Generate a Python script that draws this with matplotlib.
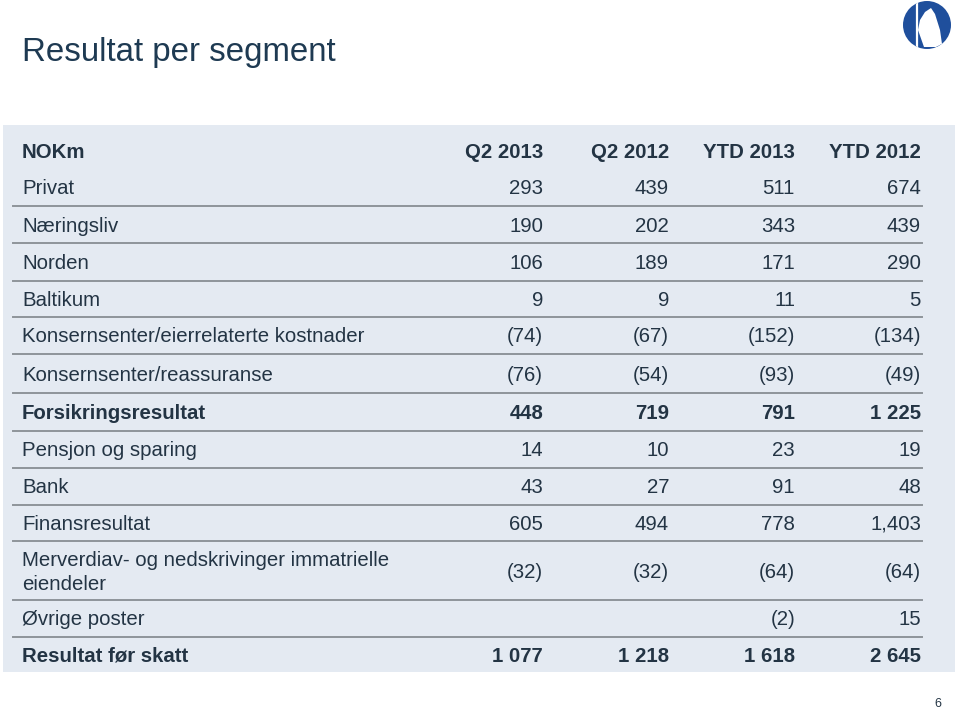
import matplotlib.pyplot as plt
from matplotlib.patches import Rectangle, Circle, Polygon

# table content
columns = ['Q2 2013', 'Q2 2012', 'YTD 2013', 'YTD 2012']
labels = ['Privat', 'Næringsliv', 'Norden', 'Baltikum',
          'Konsernsenter/eierrelaterte kostnader', 'Konsernsenter/reassuranse',
          'Forsikringsresultat', 'Pensjon og sparing', 'Bank', 'Finansresultat',
          'Merverdiav- og nedskrivinger immatrielle\neiendeler',
          'Øvrige poster', 'Resultat før skatt']
q2_2013 = ['293', '190', '106', '9', '(74)', '(76)', '448', '14', '43', '605', '(32)', '', '1 077']
q2_2012 = ['439', '202', '189', '9', '(67)', '(54)', '719', '10', '27', '494', '(32)', '', '1 218']
ytd_2013 = ['511', '343', '171', '11', '(152)', '(93)', '791', '23', '91', '778', '(64)', '(2)', '1 618']
ytd_2012 = ['674', '439', '290', '5', '(134)', '(49)', '1 225', '19', '48', '1,403', '(64)', '15', '2 645']
bold_rows = ['Forsikringsresultat', 'Resultat før skatt']

# layout (pixels)
W, H = 959, 713
row_y = [187, 225, 262, 299, 335, 374, 412, 449, 486, 523, 571, 618, 655]
sep_y = [206, 243, 281, 317, 354, 393, 431, 468, 505, 541, 600, 637]
col_x = [543, 669, 795, 921]
header_y = 151
txt = '#233444'
fs = 14.7
dy = 1.5  # nudge text down a little
line_gap = 23

plt.rcParams['font.family'] = ['Liberation Sans', 'DejaVu Sans']

fig = plt.figure(figsize=(W / 100, H / 100), dpi=100)
ax = fig.add_axes([0, 0, 1, 1])
ax.set_xlim(0, W)
ax.set_ylim(H, 0)
ax.axis('off')

ax.text(22, 52.5, 'Resultat per segment', fontsize=23.8, color='#1E3A52', va='center', ha='left')

# panel
ax.add_patch(Rectangle((3, 125), 952, 547, facecolor='#E4EAF2', edgecolor='none', zorder=0))

ax.text(22, header_y + dy, 'NOKm', fontsize=fs, fontweight='bold', color=txt, va='center')
for cx, c in zip(col_x, columns):
    ax.text(cx, header_y + dy, c, fontsize=fs, fontweight='bold', color=txt, va='center', ha='right')

for i, lab in enumerate(labels):
    y = row_y[i] + dy
    fw = 'bold' if lab in bold_rows else 'normal'
    parts = lab.split('\n')
    y0 = y - line_gap * (len(parts) - 1) / 2
    for k, p in enumerate(parts):
        ax.text(22, y0 + k * line_gap, p, fontsize=fs, fontweight=fw, color=txt,
                va='center', ha='left')
    for cx, col in zip(col_x, [q2_2013, q2_2012, ytd_2013, ytd_2012]):
        ax.text(cx, y, col[i], fontsize=fs, fontweight=fw, color=txt, va='center', ha='right')

for y in sep_y:
    ax.plot([13, 922], [y, y], color='#8E949A', lw=1.4, zorder=1)

# logo
logo = Circle((927, 25), 24, facecolor='#1F4F9C', edgecolor='none', zorder=2)
ax.add_patch(logo)
staff, = ax.plot([917, 917], [0, 50], color='white', lw=1.6, zorder=3)
staff.set_clip_path(logo)
fig_shape = Polygon([(925, 12), (931, 8), (935, 14), (940, 30), (942, 44),
                     (936, 47), (924, 47), (918, 30), (920, 20)],
                    facecolor='white', edgecolor='none', zorder=3)
ax.add_patch(fig_shape)
fig_shape.set_clip_path(logo)

ax.text(938, 704, '6', fontsize=9, color=txt, va='center', ha='center')

fig.savefig('out.png', dpi=100)
